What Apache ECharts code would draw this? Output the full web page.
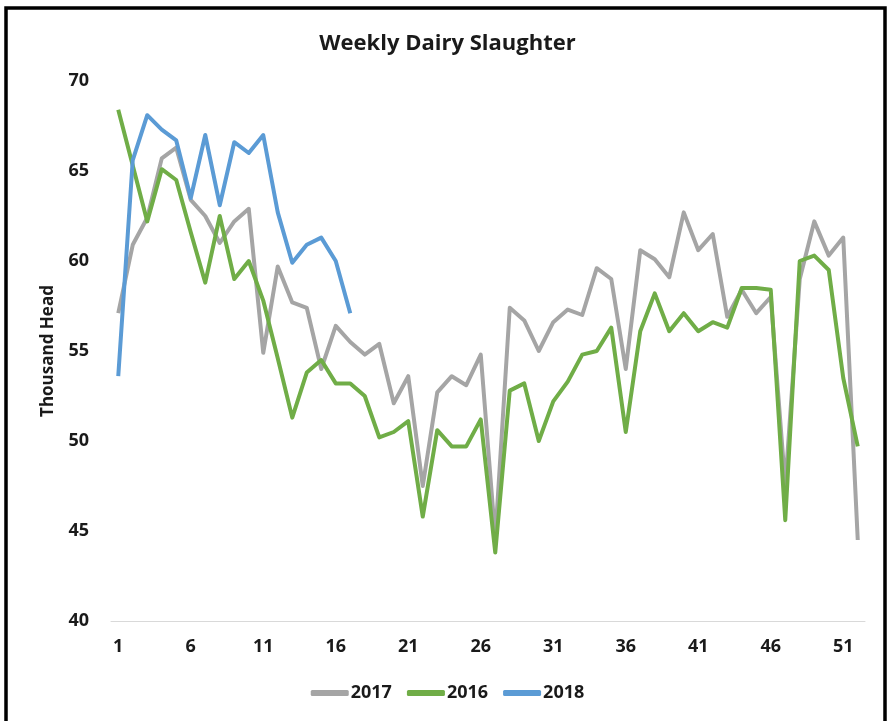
<!DOCTYPE html>
<html>
<head>
<meta charset="utf-8">
<script src="https://cdn.jsdelivr.net/npm/echarts@6/dist/echarts.min.js"></script>
<style>
  html, body { margin: 0; padding: 0; background: #fff; }
  #chart { width: 895px; height: 721px; }
</style>
</head>
<body>
<div id="chart"></div>
<script>
  // 주차 (1~52)
  var weeks = ['1', '2', '3', '4', '5', '6', '7', '8', '9', '10',
    '11', '12', '13', '14', '15', '16', '17', '18', '19', '20',
    '21', '22', '23', '24', '25', '26', '27', '28', '29', '30',
    '31', '32', '33', '34', '35', '36', '37', '38', '39', '40',
    '41', '42', '43', '44', '45', '46', '47', '48', '49', '50',
    '51', '52'];

  // 2017 (gray)
  var slaughter2017 = [57.1, 60.9, 62.4, 65.7, 66.3, 63.4, 62.5, 61.0, 62.2, 62.9,
    54.9, 59.7, 57.7, 57.4, 54.0, 56.4, 55.5, 54.8, 55.4, 52.1,
    53.6, 47.5, 52.7, 53.6, 53.1, 54.8, 44.6, 57.4, 56.7, 55.0,
    56.6, 57.3, 57.0, 59.6, 59.0, 54.0, 60.6, 60.1, 59.1, 62.7,
    60.6, 61.5, 56.9, 58.4, 57.1, 58.0, 47.5, 59.0, 62.2, 60.3,
    61.3, 44.5];

  // 2016 (green)
  var slaughter2016 = [68.4, 65.3, 62.2, 65.1, 64.5, 61.6, 58.8, 62.5, 59.0, 60.0,
    57.8, 54.6, 51.3, 53.8, 54.5, 53.2, 53.2, 52.5, 50.2, 50.5,
    51.1, 45.8, 50.6, 49.7, 49.7, 51.2, 43.8, 52.8, 53.2, 50.0,
    52.2, 53.3, 54.8, 55.0, 56.3, 50.5, 56.1, 58.2, 56.1, 57.1,
    56.1, 56.6, 56.3, 58.5, 58.5, 58.4, 45.6, 60.0, 60.3, 59.5,
    53.5, 49.7];

  // 2018 (blue) - 17주까지만
  var slaughter2018 = [53.6, 65.6, 68.1, 67.3, 66.7, 63.5, 67.0, 63.1, 66.6, 66.0,
    67.0, 62.7, 59.9, 60.9, 61.3, 60.0, 57.1];

  var yTicks = { min: 40, max: 70, interval: 5 };

  const fontName = 'Open Sans';
  const labelColor = '#1a1a1a';

  const getWeeklyDairySlaughter = chartId => {
    let myChart = echarts.init(document.getElementById(chartId), null, { renderer: 'canvas' });

    const lineSeries = (name, data, color) => ({
      name: name,
      type: 'line',
      data: data,
      symbol: 'none',
      smooth: false,
      lineStyle: { width: 4, color: color, join: 'round' },
      itemStyle: { color: color },
      emphasis: { disabled: true }
    });

    let option = {
      animation: false,
      title: {
        text: 'Weekly Dairy Slaughter',
        left: 'center',
        top: 28,
        textStyle: { fontFamily: fontName, fontSize: 22, fontWeight: 'bold', color: labelColor }
      },
      legend: {
        data: ['2017', '2016', '2018'],
        left: 'center',
        top: 679,
        icon: 'roundRect',
        itemWidth: 38,
        itemHeight: 6,
        itemGap: 15,
        textStyle: { fontFamily: fontName, fontSize: 18, fontWeight: 'bold', color: labelColor, padding: [0, 0, 0, -3] }
      },
      grid: {
        left: 111,
        right: 30,
        top: 81,
        bottom: 100
      },
      xAxis: {
        type: 'category',
        data: weeks,
        boundaryGap: true,
        axisLine: { lineStyle: { color: '#d9d9d9', width: 1 } },
        axisTick: { show: false },
        axisLabel: {
          interval: 4,
          margin: 17,
          fontFamily: fontName, fontSize: 18, fontWeight: 'bold', color: labelColor
        }
      },
      yAxis: {
        type: 'value',
        min: yTicks.min,
        max: yTicks.max,
        interval: yTicks.interval,
        name: 'Thousand Head',
        nameLocation: 'middle',
        nameGap: 54,
        nameTextStyle: { fontFamily: fontName, fontSize: 17, fontWeight: 'bold', color: labelColor },
        axisLine: { show: false },
        axisTick: { show: false },
        splitLine: { show: false },
        axisLabel: { margin: 22, fontFamily: fontName, fontSize: 18, fontWeight: 'bold', color: labelColor }
      },
      graphic: [
        {
          type: 'rect',
          silent: true,
          shape: { x: 6, y: 8, width: 879, height: 740 },
          style: { fill: 'none', stroke: '#000', lineWidth: 3.5 }
        }
      ],
      series: [
        lineSeries('2017', slaughter2017, '#a5a5a5'),
        lineSeries('2016', slaughter2016, '#70ad47'),
        lineSeries('2018', slaughter2018, '#5b9bd5')
      ]
    };

    option && myChart.setOption(option);
  };

  getWeeklyDairySlaughter('chart');
</script>
</body>
</html>
